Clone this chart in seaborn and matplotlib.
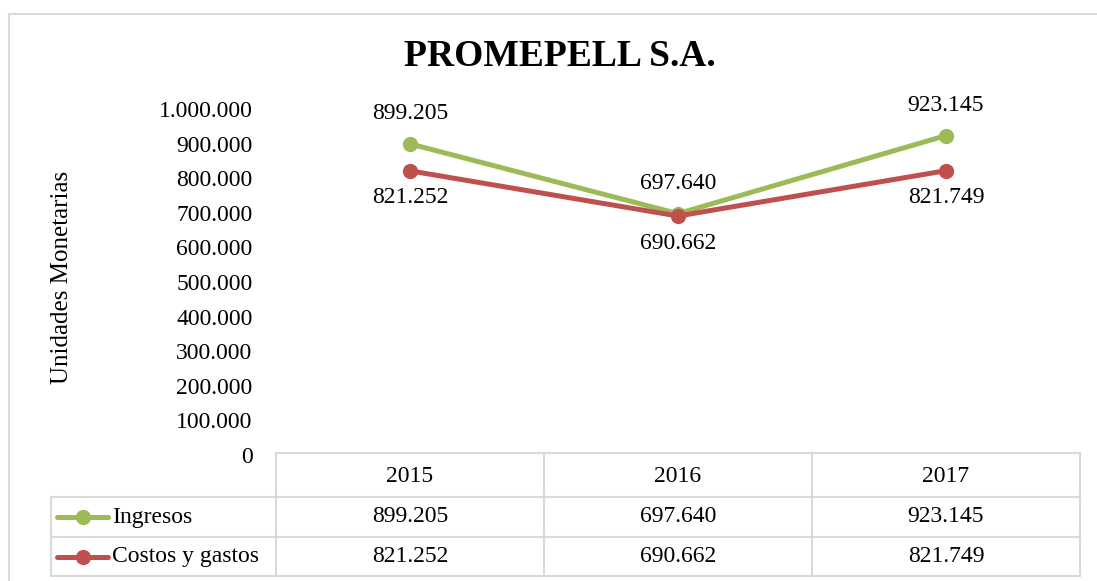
import matplotlib
matplotlib.use("Agg")
import matplotlib.pyplot as plt
import matplotlib.ticker as mticker
from matplotlib.lines import Line2D
from matplotlib.patches import Rectangle
import pandas as pd
import seaborn as sns

# --- Datos ---
years = ["2015", "2016", "2017"]
ingresos = [899205, 697640, 923145]
costos = [821252, 690662, 821749]
series_names = ["Ingresos", "Costos y gastos"]
series_colors = ["#9BBB59", "#C0504D"]
y_ticks = list(range(0, 1000001, 100000))


def fmt_miles(v):
    return f"{v:,.0f}".replace(",", ".")


sns.set_style("white")
plt.rcParams["font.family"] = ["Liberation Serif", "DejaVu Serif"]
plt.rcParams["text.color"] = "black"
plt.rcParams["ytick.color"] = "black"

df = pd.DataFrame({
    "pos": list(range(len(years))) * 2,
    "valor": ingresos + costos,
    "serie": [series_names[0]] * len(years) + [series_names[1]] * len(years),
})

fig = plt.figure(figsize=(10.97, 5.81), dpi=100)
W, H = 1097, 581

# marco exterior
fig.add_artist(Rectangle((8.5 / W, -0.1), 1.2, (581 - 13.5) / H + 0.1,
                         transform=fig.transFigure, fill=False,
                         edgecolor="#D9D9D9", linewidth=1.5))

# --- Tabla de datos (debajo del grafico) ---
tab = fig.add_axes([0, 0, 1, 1])
tab.set_xlim(0, W)
tab.set_ylim(H, 0)
tab.axis("off")

ax = fig.add_axes([276 / W, (H - 455) / H, (1080 - 276) / W, (455 - 109) / H])
ax.set_facecolor("none")
sns.lineplot(data=df, x="pos", y="valor", hue="serie", palette=series_colors,
             marker="o", markersize=11, markeredgewidth=0, linewidth=3.6,
             legend=False, ax=ax)
ax.set_xlim(-0.5, len(years) - 0.5)
ax.set_ylim(0, 1000000)
ax.set_yticks(y_ticks)
ax.yaxis.set_major_formatter(mticker.FuncFormatter(lambda v, p: fmt_miles(v)))
ax.tick_params(axis="y", length=0, pad=17, labelsize=17, labelcolor="black")
ax.set_xticks([])
ax.set_xlabel("")
ax.set_ylabel("")
for s in ax.spines.values():
    s.set_visible(False)

for i in range(len(years)):
    ax.annotate(fmt_miles(ingresos[i]), (i, ingresos[i]), xytext=(0, 22),
                textcoords="offset points", ha="center", va="center", fontsize=17)
    ax.annotate(fmt_miles(costos[i]), (i, costos[i]), xytext=(0, -19.5),
                textcoords="offset points", ha="center", va="center", fontsize=17)

fig.text(62 / W, 1 - 277 / H, "Unidades Monetarias", rotation=90,
         ha="center", va="center", fontsize=18)
fig.text(560 / W, 1 - 57 / H, "PROMEPELL S.A.", ha="center", va="center",
         fontsize=27, fontweight="bold")

grid = dict(color="#D9D9D9", linewidth=1.5)
col_edges = [276 + 268 * k for k in range(len(years) + 1)]
row_edges = [453, 497, 537, 576]
left = 51
tab.plot([col_edges[0], col_edges[-1]], [row_edges[0]] * 2, **grid)
for yv in row_edges[1:]:
    tab.plot([left, col_edges[-1]], [yv, yv], **grid)
for xv in col_edges:
    tab.plot([xv, xv], [row_edges[0], row_edges[-1]], **grid)
tab.plot([left, left], [row_edges[1], row_edges[-1]], **grid)

centers = [(col_edges[k] + col_edges[k + 1]) / 2 for k in range(len(years))]
for k, yr in enumerate(years):
    tab.text(centers[k], (row_edges[0] + row_edges[1]) / 2 + 2, yr,
             ha="center", va="center", fontsize=17)
for r, (name, vals, col) in enumerate(zip(series_names, [ingresos, costos], series_colors)):
    yc = (row_edges[r + 1] + row_edges[r + 2]) / 2
    tab.add_line(Line2D([57, 108], [yc, yc], color=col, linewidth=3.6))
    tab.add_line(Line2D([82.5], [yc], color=col, marker="o", markersize=11,
                        markeredgewidth=0))
    tab.text(112, yc, name, ha="left", va="center", fontsize=17)
    for k in range(len(years)):
        tab.text(centers[k], yc, fmt_miles(vals[k]), ha="center", va="center",
                 fontsize=17)

fig.savefig("out.png", dpi=100)
